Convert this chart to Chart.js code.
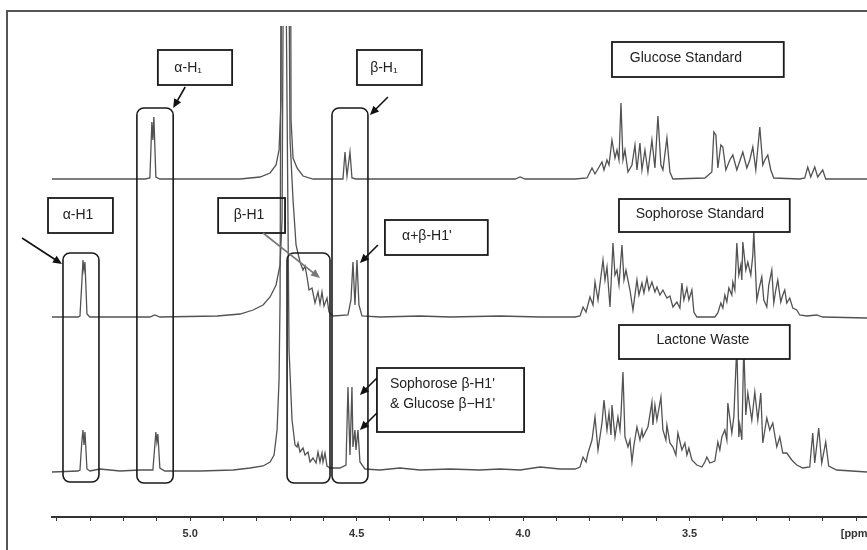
<!DOCTYPE html>
<html lang="en"><head>
<title>1H NMR Glucose / Sophorose / Lactone Waste</title>
<meta name="viewport" content="width=device-width, initial-scale=1.0">
<meta charset="utf-8">
<style type="text/css">
body { margin:0; background:#ffffff; }
#chart1 { width:867px; height:550px; }
</style>
<script src="https://cdn.jsdelivr.net/npm/chart.js"></script>
<script>
// spectra: [ppm, intensity above the trace's own baseline]
glucose=[[5.415,0],[5.136,0],[5.121,1],[5.115,57],[5.112,39],[5.109,62],[5.103,2],[5.091,0],
  [4.850,0],[4.790,2],[4.760,6],[4.742,14],[4.733,29],[4.727,79],[4.724,489],[4.700,489],[4.697,59],[4.691,21],[4.679,11],[4.661,3],[4.631,0],
  [4.541,0],[4.535,27],[4.529,3],[4.520,27],[4.514,1],[4.502,0],
  [4.024,0],[4.009,2],[3.994,0],[3.844,0],
  [3.808,1],[3.793,11],[3.784,5],[3.763,17],[3.757,9],[3.748,19],[3.742,14],[3.733,39],[3.724,21],[3.718,29],[3.712,19],[3.706,76],[3.700,19],[3.694,29],[3.685,7],[3.673,14],[3.664,34],[3.658,9],[3.649,36],[3.643,9],[3.634,29],[3.625,7],[3.613,39],[3.604,11],[3.595,63],[3.586,14],[3.580,9],[3.568,41],[3.559,7],[3.550,0],
  [3.454,1],[3.433,7],[3.427,47],[3.421,44],[3.415,11],[3.406,34],[3.400,32],[3.391,9],[3.379,19],[3.370,24],[3.358,9],[3.346,21],[3.340,27],[3.328,11],[3.319,19],[3.310,32],[3.301,9],[3.289,52],[3.280,14],[3.274,19],[3.265,24],[3.256,9],[3.247,1],
  [3.169,0],[3.154,1],[3.145,12],[3.136,2],[3.124,12],[3.115,2],[3.100,9],[3.091,0],[2.967,0]];

sophorose=[[5.415,0],[5.337,0],[5.331,1],[5.325,37],[5.322,57],[5.319,47],[5.316,55],[5.310,3],[5.301,0],
  [5.121,0],[5.106,2],[5.091,0],
  [4.919,1],[4.850,3],[4.811,7],[4.781,12],[4.760,20],[4.742,32],[4.730,52],[4.724,97],[4.718,489],[4.706,489],[4.700,177],[4.691,117],[4.682,72],[4.670,55],[4.661,47],[4.655,51],[4.649,40],[4.643,27],[4.634,29],[4.625,14],[4.616,25],[4.610,13],[4.604,25],[4.598,11],[4.589,19],[4.583,5],[4.571,1],
  [4.526,2],[4.517,17],[4.511,55],[4.505,12],[4.499,57],[4.493,12],[4.484,1],
  [4.430,0],[4.310,1],[4.220,0],[4.070,1],[3.949,0],[3.844,0],
  [3.829,1],[3.820,10],[3.811,5],[3.799,20],[3.790,12],[3.784,35],[3.775,17],[3.760,57],[3.754,37],[3.748,50],[3.739,10],[3.730,74],[3.724,42],[3.718,47],[3.712,32],[3.703,72],[3.697,37],[3.691,47],[3.679,27],[3.670,7],[3.658,37],[3.652,22],[3.643,34],[3.637,24],[3.628,39],[3.622,27],[3.613,35],[3.604,25],[3.598,30],[3.589,22],[3.580,27],[3.568,19],[3.559,21],[3.550,10],[3.538,15],[3.529,9],[3.523,34],[3.517,17],[3.508,29],[3.502,17],[3.493,27],[3.487,5],[3.478,0],
  [3.424,0],[3.415,4],[3.406,14],[3.400,9],[3.394,22],[3.388,15],[3.382,29],[3.373,22],[3.370,35],[3.364,27],[3.358,74],[3.352,42],[3.346,52],[3.343,37],[3.340,75],[3.331,47],[3.325,55],[3.316,42],[3.310,62],[3.307,86],[3.298,17],[3.292,27],[3.283,40],[3.277,17],[3.268,10],[3.262,32],[3.253,47],[3.247,14],[3.241,27],[3.235,37],[3.226,15],[3.220,22],[3.214,27],[3.208,14],[3.199,19],[3.190,9],[3.178,7],[3.169,2],[3.148,1],[3.118,2],[3.100,0],[2.967,-1]];

lactone=[[5.415,-1],[5.337,0],[5.331,1],[5.325,31],[5.322,41],[5.319,26],[5.316,39],[5.310,2],[5.301,0],[5.271,2],[5.211,0],[5.151,1],
  [5.112,1],[5.106,26],[5.103,39],[5.100,29],[5.097,37],[5.091,3],[5.076,0],
  [4.970,0],[4.871,1],[4.820,3],[4.781,5],[4.760,9],[4.748,16],[4.739,41],[4.733,91],[4.730,171],[4.727,489],[4.712,489],[4.703,121],[4.694,51],[4.685,26],[4.679,24],[4.676,28],[4.670,19],[4.661,23],[4.655,16],[4.646,19],[4.640,9],[4.631,13],[4.622,8],[4.616,19],[4.610,9],[4.604,18],[4.601,9],[4.595,18],[4.589,5],[4.580,3],
  [4.550,3],[4.532,6],[4.526,84],[4.520,16],[4.514,84],[4.511,24],[4.505,41],[4.502,21],[4.496,41],[4.490,9],[4.475,2],
  [4.430,1],[4.370,3],[4.310,1],[4.220,2],[4.130,1],[4.070,2],[4.009,1],[3.949,4],[3.889,2],[3.844,2],
  [3.829,4],[3.820,14],[3.811,9],[3.805,18],[3.793,31],[3.784,54],[3.775,21],[3.763,48],[3.757,71],[3.748,41],[3.742,58],[3.736,36],[3.733,66],[3.724,34],[3.715,54],[3.709,41],[3.706,56],[3.700,99],[3.694,34],[3.685,24],[3.679,31],[3.673,9],[3.667,26],[3.658,44],[3.649,31],[3.643,41],[3.640,34],[3.625,44],[3.613,69],[3.610,46],[3.604,66],[3.598,51],[3.586,74],[3.580,41],[3.571,31],[3.568,46],[3.559,28],[3.550,24],[3.541,16],[3.535,38],[3.523,21],[3.514,28],[3.508,16],[3.502,23],[3.493,11],[3.478,6],[3.463,4],[3.454,9],[3.448,14],[3.439,8],[3.424,10],[3.415,29],[3.409,21],[3.403,34],[3.394,41],[3.388,31],[3.385,68],[3.373,38],[3.367,54],[3.358,126],[3.352,34],[3.349,46],[3.343,31],[3.337,126],[3.331,56],[3.325,78],[3.313,51],[3.304,79],[3.295,51],[3.286,78],[3.280,28],[3.268,53],[3.259,41],[3.250,48],[3.238,24],[3.229,34],[3.220,18],[3.208,18],[3.193,11],[3.178,6],[3.160,3],[3.139,4],[3.130,38],[3.124,8],[3.112,43],[3.103,8],[3.091,29],[3.082,5],[3.058,1],[2.967,-1]];

traceNames=["Glucose Standard","Sophorose Standard","Lactone Waste"];
tickLabels={"5.0":"5.0","4.5":"4.5","4.0":"4.0","3.5":"3.5","3.0":"[ppm]"};

// annotations, in ppm / chart units
brackets=[[5.382,5.274,264,35],[5.160,5.051,409,34],[4.709,4.580,264,34],[4.574,4.466,409,34]];
labelBoxes=[
  {box:[5.097,4.874,467,432],text:["α-H₁"],at:[5.006,449],align:"center",fill:true},
  {box:[4.499,4.304,467,432],text:["β-H₁"],at:[4.418,449],align:"center",fill:true},
  {box:[3.733,3.217,475,440],text:[traceNames[0]],at:[3.511,459],align:"center",fill:true},
  {box:[5.427,5.232,319,284],text:["α-H1"],at:[5.337,302],align:"center",fill:true},
  {box:[4.916,4.715,319,284],text:["β-H1"],at:[4.823,302],align:"center",fill:false},
  {box:[4.415,4.106,297,262],text:["α+β-H1'"],at:[4.289,281],align:"center",fill:true},
  {box:[3.712,3.199,318,285],text:[traceNames[1]],at:[3.469,303],align:"center",fill:true},
  {box:[3.712,3.199,192,158],text:[traceNames[2]],at:[3.460,177],align:"center",fill:true},
  {box:[4.439,3.997,149,85],text:["Sophorose β-H1'","& Glucose β−H1'"],at:[4.400,133],align:"left",fill:true}];
arrows=[[5.015,430,5.051,409,"#111"],[4.406,420,4.460,402,"#111"],[5.505,279,5.385,253,"#111"],
  [4.781,284,4.610,239,"#777"],[4.436,272,4.490,254,"#111"],[4.439,139,4.490,122,"#111"],[4.439,104,4.490,87,"#111"]];

function rrect(g,x1,y1,x2,y2,r) {
  g.beginPath(); g.moveTo(x1+r,y1); g.arcTo(x2,y1,x2,y2,r); g.arcTo(x2,y2,x1,y2,r);
  g.arcTo(x1,y2,x1,y1,r); g.arcTo(x1,y1,x2,y1,r); g.closePath(); }

deco={id:'deco',
  beforeDraw:function(c) { var g=c.ctx; g.save(); g.fillStyle="#ffffff"; g.fillRect(0,0,c.width,c.height); g.restore(); },
  afterDraw:function(c) {
    var g=c.ctx, sx=c.scales.x, sy=c.scales.y, i, b, a;
    function px(v){return sx.getPixelForValue(v);} function py(v){return sy.getPixelForValue(v);}
    g.save();
    g.strokeStyle="#555"; g.lineWidth=2;
    g.beginPath(); g.moveTo(7,550); g.lineTo(7,11); g.lineTo(867,11); g.stroke();
    g.strokeStyle="#1a1a1a"; g.lineWidth=1.6;
    for (i=0;i<brackets.length;i++) { b=brackets[i];
      rrect(g,px(b[0]),py(b[2]),px(b[1]),py(b[3]),7); g.stroke(); }
    g.font='14px "Liberation Sans", Arial, sans-serif'; g.textBaseline="middle";
    for (i=0;i<labelBoxes.length;i++) { b=labelBoxes[i];
      var x1=px(b.box[0]),x2=px(b.box[1]),y1=py(b.box[2]),y2=py(b.box[3]);
      if (b.fill) { g.fillStyle="#ffffff"; g.fillRect(x1,y1,x2-x1,y2-y1); }
      g.strokeStyle="#1a1a1a"; g.lineWidth=1.8; g.strokeRect(x1,y1,x2-x1,y2-y1);
      g.fillStyle="#222"; g.textAlign=b.align;
      for (var k=0;k<b.text.length;k++) g.fillText(b.text[k],px(b.at[0]),py(b.at[1])+k*20); }
    for (i=0;i<arrows.length;i++) { a=arrows[i];
      var x0=px(a[0]),y0=py(a[1]),xe=px(a[2]),ye=py(a[3]),ang=Math.atan2(ye-y0,xe-x0);
      g.strokeStyle=a[4]; g.fillStyle=a[4]; g.lineWidth=1.6;
      g.beginPath(); g.moveTo(x0,y0); g.lineTo(xe-6*Math.cos(ang),ye-6*Math.sin(ang)); g.stroke();
      g.beginPath(); g.moveTo(xe,ye);
      g.lineTo(xe-9*Math.cos(ang)+4*Math.sin(ang),ye-9*Math.sin(ang)-4*Math.cos(ang));
      g.lineTo(xe-9*Math.cos(ang)-4*Math.sin(ang),ye-9*Math.sin(ang)+4*Math.cos(ang));
      g.closePath(); g.fill(); }
    g.restore(); }};

function initChart() {
  var offsets=[338,200,46], traces=[glucose,sophorose,lactone], datasets=[];
  for (var t=0;t<traces.length;t++) {
    datasets.push({label:traceNames[t],
      data:traces[t].map(function(p){return {x:p[0],y:p[1]+offsets[t]};}),
      borderColor:'#525252',borderWidth:1.3,pointRadius:0,tension:0,fill:false,
      clip:{left:0,right:0,top:2,bottom:0}}); }

  config={type:'line',data:{datasets:datasets},plugins:[deco],options:{
    responsive:false,animation:false,devicePixelRatio:1,parsing:false,
    layout:{padding:{left:52,right:0,top:28,bottom:0}},
    plugins:{legend:{display:false},tooltip:{enabled:false}},
    scales:{
      x:{type:'linear',reverse:true,min:2.967,max:5.415,
        afterFit:function(s){s.height=33;s.paddingLeft=0;s.paddingRight=0;},
        border:{display:true,color:'#333',width:2},
        grid:{display:true,drawOnChartArea:false,drawTicks:true,tickLength:4,color:'#333'},
        ticks:{stepSize:0.1,includeBounds:false,autoSkip:false,maxRotation:0,padding:6,color:'#333',
          font:{family:'"Liberation Sans", Arial, sans-serif',size:11,weight:'bold'},
          callback:function(v){var k=(Math.round(v*10)/10).toFixed(1); return tickLabels[k]||'';}}},
      y:{display:false,min:0,max:489}}}};
  myChart=new Chart(document.getElementById('myChart'),config); }
</script></head>
<body onload="initChart();">
<div id="chart1">
  <canvas id="myChart" width="867" height="550"></canvas>
</div>
</body></html>
